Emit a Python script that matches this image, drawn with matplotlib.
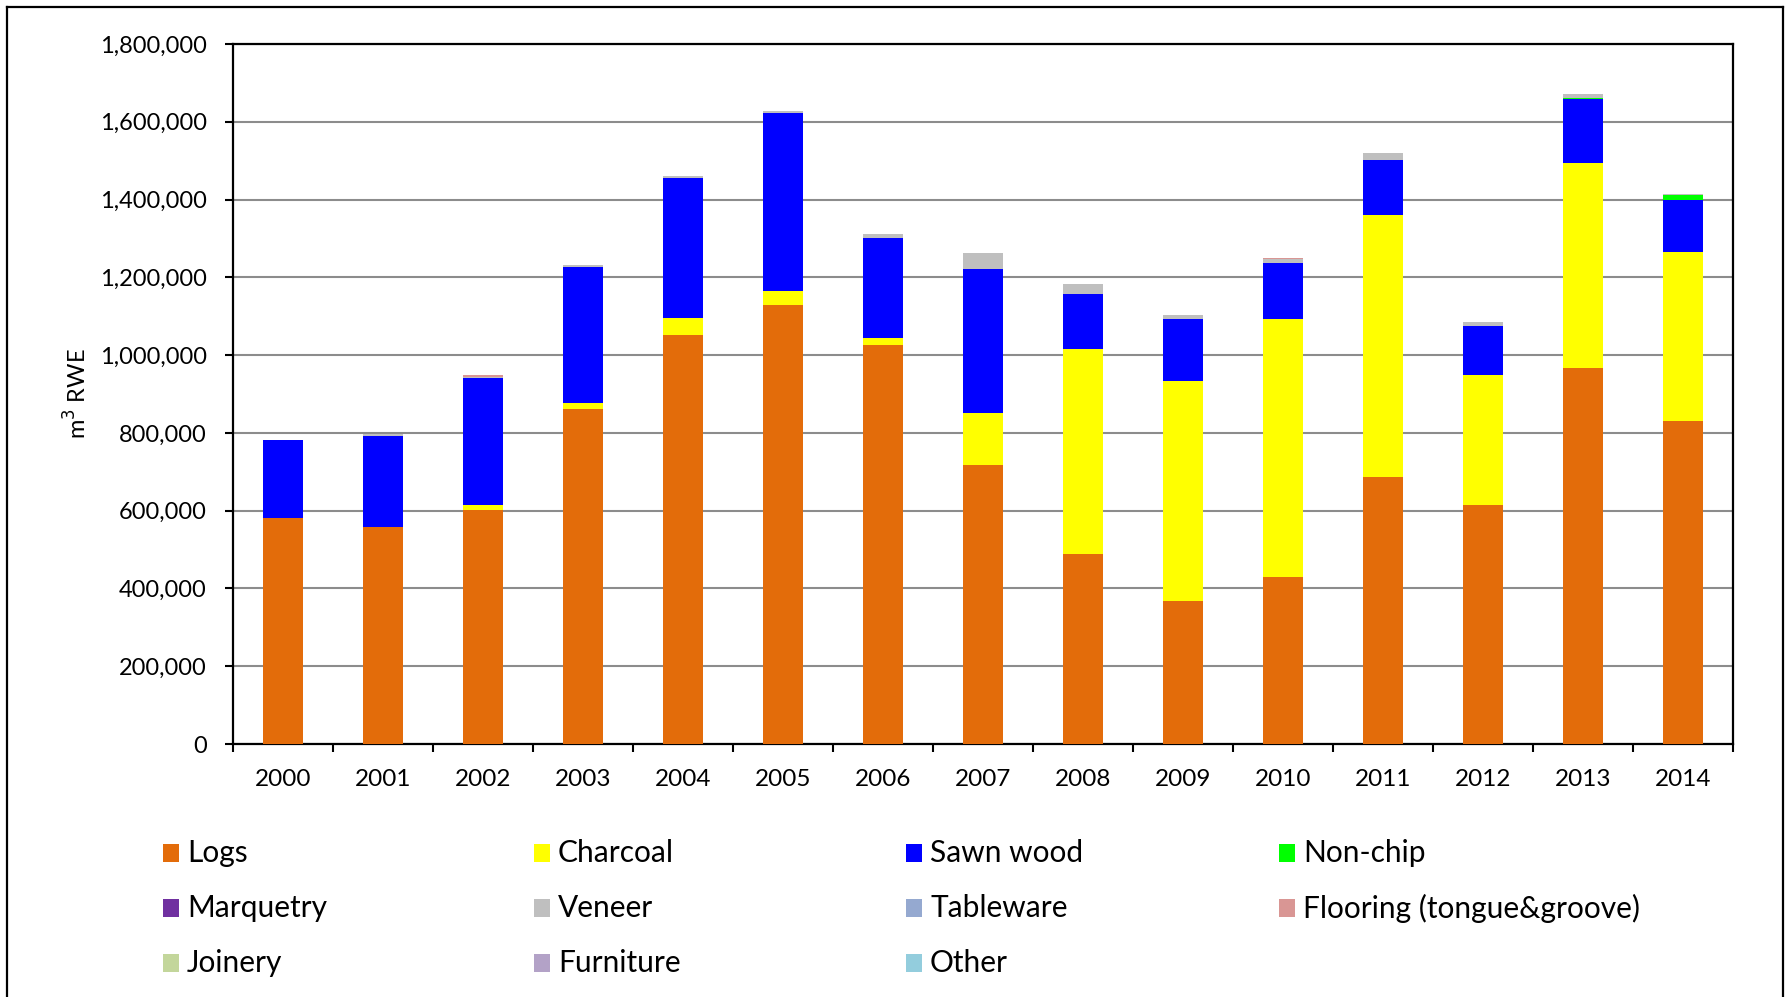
import matplotlib
matplotlib.use("Agg")
import matplotlib.pyplot as plt
from matplotlib.patches import Rectangle
from matplotlib.lines import Line2D
from matplotlib.ticker import FuncFormatter, MultipleLocator
import numpy as np

plt.rcParams['font.family'] = ['Lato', 'DejaVu Sans']

years = [str(y) for y in range(2000, 2015)]

logs      = [582000, 558000, 603000, 862000, 1052000, 1130000, 1025000, 717000, 489000, 369000, 430000, 686000, 614000, 968000, 831000]
charcoal  = [0, 0, 11000, 16000, 43000, 35000, 20000, 134000, 528000, 565000, 663000, 675000, 336000, 527000, 434000]
sawn_wood = [199000, 234000, 328000, 349000, 361000, 457000, 255000, 370000, 141000, 159000, 144000, 140000, 125000, 164000, 133000]
non_chip  = [0, 0, 0, 0, 0, 0, 0, 0, 0, 0, 0, 0, 0, 3000, 14000]
marquetry = [0] * 15
veneer    = [0, 4000, 3000, 5000, 4000, 6000, 11000, 41000, 24000, 10000, 10000, 19000, 10000, 9000, 2000]
tableware = [0] * 15
flooring  = [0, 0, 4000, 0, 0, 0, 0, 0, 0, 0, 2000, 0, 0, 0, 0]
joinery   = [0] * 15
furniture = [0] * 15
other     = [0] * 15

series_names = ["Logs", "Charcoal", "Sawn wood", "Non-chip", "Marquetry", "Veneer",
                "Tableware", "Flooring (tongue&groove)", "Joinery", "Furniture", "Other"]
series_values = [logs, charcoal, sawn_wood, non_chip, marquetry, veneer,
                 tableware, flooring, joinery, furniture, other]
series_colors = ["#E36C0A", "#FFFF00", "#0000FF", "#00FF00", "#7030A0", "#BFBFBF",
                 "#95A9D0", "#D99694", "#C3D69B", "#B3A2C7", "#93CDDD"]

W, H = 1787, 997
fig = plt.figure(figsize=(W / 100, H / 100), dpi=100)
ax = fig.add_axes([233 / W, 1 - 744 / H, 1500 / W, 700 / H])

x = np.arange(len(years))
bottom = np.zeros(len(years))
for name, vals, col in zip(series_names, series_values, series_colors):
    v = np.array(vals, dtype=float)
    ax.bar(x, v, width=0.4, bottom=bottom, color=col, linewidth=0, zorder=3)
    bottom += v

ax.set_xlim(-0.5, len(years) - 0.5)
ax.set_ylim(0, 1800000)
ax.yaxis.set_major_locator(MultipleLocator(200000))
ax.yaxis.set_major_formatter(FuncFormatter(lambda v, p: f"{int(v):,}"))
ax.grid(axis='y', color='#8c8c8c', linewidth=1.5, zorder=0)
ax.set_axisbelow(True)

ax.set_xticks(x)
ax.set_xticklabels(years)
ax.set_xticks(np.arange(-0.5, len(years)), minor=True)
ax.tick_params(axis='x', which='major', length=0, pad=18, labelsize=17.5)
ax.tick_params(axis='x', which='minor', length=6, width=1.5, direction='out')
ax.tick_params(axis='y', length=6, width=1.5, direction='out', pad=13, labelsize=17)

for s in ax.spines.values():
    s.set_color('black')
    s.set_linewidth(1.6)

fig.text(77 / W, 1 - 394 / H, "m$^3$ RWE", rotation=90, va='center', ha='center', fontsize=17)

# Legend (manual grid of 4 columns)
col_x = [163, 534, 906, 1279]
row_y = [853, 908, 963]
for i, (name, col) in enumerate(zip(series_names, series_colors)):
    r, c = divmod(i, 4)
    sx, sy = col_x[c], row_y[r]
    fig.patches.append(Rectangle((sx / W, 1 - (sy + 9) / H), 16 / W, 18 / H,
                                 transform=fig.transFigure, facecolor=col,
                                 edgecolor='none', figure=fig))
    fig.text((sx + 24) / W, 1 - sy / H, name, va='center', ha='left', fontsize=21.5)

# Outer frame
for (x0, y0, x1, y1) in [(7, 7, 1783, 7), (7, 7, 7, 1000), (1783, 7, 1783, 1000)]:
    fig.add_artist(Line2D([x0 / W, x1 / W], [1 - y0 / H, 1 - y1 / H],
                          transform=fig.transFigure, color='black', linewidth=1.6))

fig.savefig("out.png", dpi=100)
